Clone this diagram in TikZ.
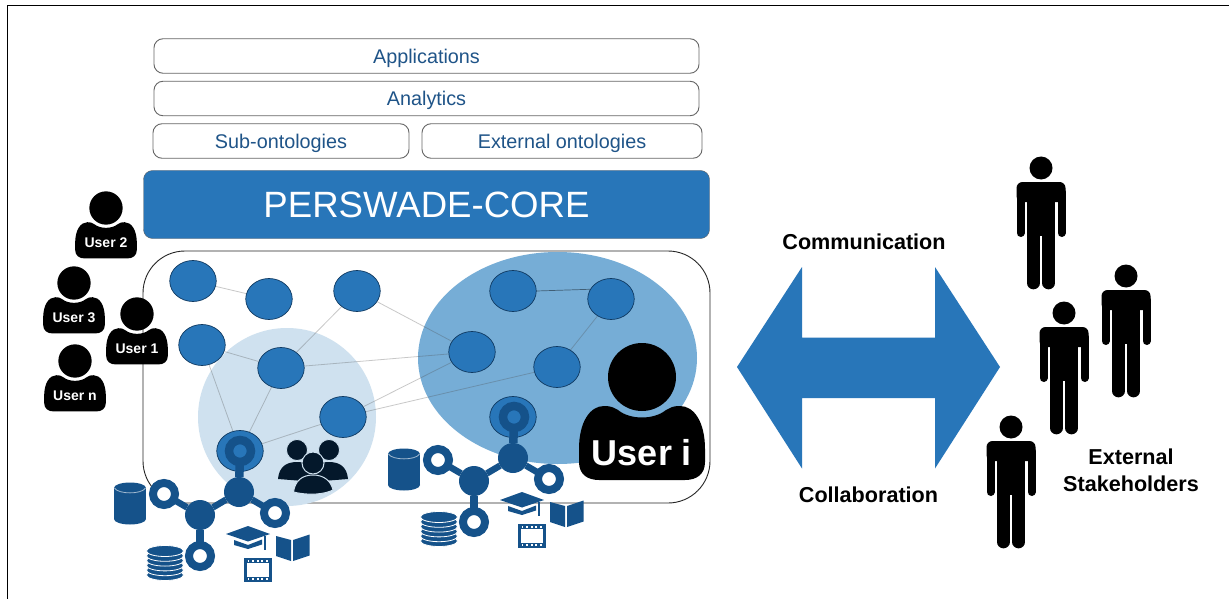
\documentclass[tikz,border=0pt]{standalone}
\usepackage{fontspec}
\setmainfont{Liberation Sans}
\usetikzlibrary{shapes.geometric}
\definecolor{persblue}{HTML}{2876B9}
\definecolor{hubdark}{HTML}{15528A}
\definecolor{softblue}{HTML}{CFE1EF}
\definecolor{midblue}{HTML}{76ADD6}
\definecolor{layertext}{HTML}{1F5488}
\definecolor{groupdark}{HTML}{04182B}
\tikzset{
  ontnode/.style={draw=hubdark!70!black, fill=persblue, ellipse, minimum width=46.5, minimum height=41, inner sep=0, line width=.7},
  ontlink/.style={draw=black!70, opacity=.3, line width=.8},
  layerbox/.style={draw=black!60, rounded corners=9, line width=.9, fill=white, text=layertext, minimum height=34.5, inner sep=0, text height=14.5, text depth=0, font=\fontsize{19.8}{23}\selectfont},
  sidelabel/.style={inner sep=0, align=center, font=\fontsize{21.6}{26}\selectfont\bfseries},
  hubring/.style={draw=hubdark, fill=white, circle, minimum size=22, inner sep=0, outer sep=0, line width=8},
  hubtop/.style={draw=hubdark, fill=persblue, circle, minimum size=22, inner sep=0, outer sep=0, line width=8.5},
  hubsolid/.style={fill=hubdark, circle, minimum size=30, inner sep=0, outer sep=0},
  hublink/.style={draw=hubdark, line width=6.5}
}
\newcommand{\userfig}[7]{
  \begin{scope}[shift={(#2,#3)}, scale=#4]
    \fill (-63,72) .. controls (-63,45) and (-52,29) .. (-38,29) .. controls (-30,29) and (-28,31) .. (-24,33)
      .. controls (-12,43) and (12,43) .. (24,33) .. controls (28,31) and (30,29) .. (38,29)
      .. controls (52,29) and (63,45) .. (63,72) -- (63,85) .. controls (63,97) and (55,103) .. (43,103)
      -- (-43,103) .. controls (-55,103) and (-63,97) .. (-63,85) -- cycle;
    \fill (0,0) circle (34);
    \node[text=white, inner sep=0, font=\fontsize{#5}{#5}\selectfont\bfseries] (#1) at (0,#6) {#7};
  \end{scope}
}
\newcommand{\personfig}[3]{
  \begin{scope}[shift={(#2,#3)}]
    \fill (0,0) circle (11.5);
    \fill[rounded corners=6] (-24.5,34) -- (-24.5,14) -- (24.5,14) -- (24.5,34) -- cycle;
    \fill (-14,20) rectangle (14,68);
    \draw[line width=8, line cap=round] (-20.5,24) -- (-20.5,65);
    \draw[line width=8, line cap=round] (20.5,24) -- (20.5,65);
    \draw[line width=12.7, line cap=round] (-7.6,40) -- (-7.6,115);
    \draw[line width=12.7, line cap=round] (7.6,40) -- (7.6,115);
  \end{scope}
}
\newcommand{\hubfig}[3]{
  \begin{scope}[shift={(#2,#3)}]
    \node[hubtop] (#1top) at (240,451) {};
    \node[hubsolid] (#1a) at (239,492) {};
    \node[hubsolid] (#1b) at (200,515) {};
    \node[hubring] (#1r1) at (164,494) {};
    \node[hubring] (#1r2) at (275,513) {};
    \node[hubring] (#1r3) at (200,556) {};
    \draw[hublink, line width=8.5] (#1top) -- (#1a);
    \draw[hublink] (#1a) -- (#1b);
    \draw[hublink] (#1a) -- (#1r2);
    \draw[hublink] (#1b) -- (#1r1);
    \draw[hublink, line width=8.5] (#1b) -- (#1r3);
    % cylinder
    \fill[hubdark] (114,488) rectangle (146,519);
    \fill[hubdark] (130,488) ellipse (16 and 5.5);
    \fill[hubdark] (130,519) ellipse (16 and 5.5);
    \draw[white, opacity=.6, line width=.8] (114.5,488) .. controls (118,494.5) and (142,494.5) .. (145.5,488);
    % stack
    \foreach \i in {0,...,5}
      \filldraw[fill=hubdark, draw=white, line width=.8] (165,575-4.8*\i) ellipse (18.5 and 5.5);
    % cap
    \fill[hubdark] (226,534) -- (248,526) -- (270,534) -- (248,541.5) -- cycle;
    \fill[hubdark] (234,540) -- (248,545) -- (262,539.5) -- (262,544.5) -- (248,549) -- (234,545) -- cycle;
    \fill[hubdark] (263.5,536) rectangle (266,550);
    % book
    \fill[hubdark] (276,536) -- (291,540) -- (291,561) -- (276,556) -- cycle;
    \fill[hubdark] (293,540) -- (309.5,534.5) -- (309.5,555.5) -- (293,561) -- cycle;
    % film
    \fill[hubdark] (244,558) rectangle (272,582);
    \fill[white] (247,563) rectangle (269,576.5);
    \foreach \k in {0,...,4} {
      \fill[white] (247.5+\k*4.6,559.5) rectangle +(1.8,2);
      \fill[white] (247.5+\k*4.6,578) rectangle +(1.8,2);
    }
  \end{scope}
}
\begin{document}
\begin{tikzpicture}[x=1pt, y=-1pt]
  \useasboundingbox (0,0) rectangle (1229,599);
  \fill[white] (0,0) rectangle (1229,599);
  \draw[line width=1] (7.5,599) -- (7.5,5.5) -- (1229,5.5);

  \node[layerbox, minimum width=545] (app) at (426.5,56) {Applications};
  \node[layerbox, minimum width=545] (ana) at (426.5,98.5) {Analytics};
  \node[layerbox, minimum width=256] (sub) at (281,141) {Sub-ontologies};
  \node[layerbox, minimum width=280] (ext) at (562,141) {External ontologies};
  \node[draw=black!60, fill=persblue, rounded corners=9, minimum width=566, minimum height=68, inner sep=0,
    text=white, font=\fontsize{36.6}{40}\selectfont] (core) at (426.5,204.5) {PERSWADE-CORE};

  \node[draw=black!85, line width=.9, rounded corners=42, minimum width=567, minimum height=252, inner sep=0] (net) at (426.5,377) {};
  \fill[softblue] (287,417) circle (89);
  \fill[midblue] (557.5,358) ellipse (139.5 and 106);

  \node[ontnode] (n1) at (193,281) {};
  \node[ontnode] (n2) at (269,299) {};
  \node[ontnode] (n3) at (357,291) {};
  \node[ontnode] (n4) at (202,345) {};
  \node[ontnode] (n5) at (281,368) {};
  \node[ontnode] (n6) at (343,417) {};
  \node[ontnode] (n7) at (240,451) {};
  \node[ontnode] (n8) at (513,291) {};
  \node[ontnode] (n9) at (611,299) {};
  \node[ontnode] (n10) at (472,352) {};
  \node[ontnode] (n11) at (557,367) {};
  \node[ontnode] (n12) at (513,417) {};

  \path[ontlink]
  (n1) edge (n2)
  (n3) edge (n5)
  (n3) edge (n10)
  (n4) edge (n5)
  (n4) edge (n7)
  (n5) edge (n7)
  (n5) edge (n10)
  (n6) edge (n7)
  (n6) edge (n10)
  (n6) edge (n11)
  (n9) edge (n11);
  \draw[draw=black, opacity=.45, line width=.7] (n8.east) -- (n9.155);

  \userfig{u2}{106}{208}{.49}{14}{70}{User 2}
  \userfig{u3}{74}{283}{.49}{14}{70}{User 3}
  \userfig{u1}{137}{314}{.49}{14}{70}{User 1}
  \userfig{un}{75}{361}{.49}{14}{70}{User n}
  \userfig{ui}{642}{377}{1}{36}{76}{User i}

  % group of users
  \fill[groupdark] (278,479) .. controls (279,468) and (285,462) .. (297,462) .. controls (309,462) and (315,468) .. (316,482) -- cycle;
  \fill[groupdark] (310,482) .. controls (311,468) and (317,462) .. (329,462) .. controls (341,462) and (347,468) .. (348,479) -- cycle;
  \filldraw[fill=groupdark, draw=softblue, line width=.8] (297,450) circle (10.5);
  \filldraw[fill=groupdark, draw=softblue, line width=.8] (329,450) circle (10.5);
  \filldraw[fill=groupdark, draw=softblue, line width=1] (293.5,492) .. controls (295,481) and (302,475) .. (313,475) .. controls (324,475) and (331,481) .. (333,490) .. controls (325,494) and (310,496) .. (293.5,492) -- cycle;
  \filldraw[fill=groupdark, draw=softblue, line width=1] (313,463) circle (11);

  \hubfig{hl}{0}{0}
  \hubfig{hr}{274}{-34}

  \fill[persblue] (737,367) -- (802,267) -- (802,337.5) -- (935,337.5) -- (935,267) -- (1000,367)
    -- (935,468.5) -- (935,398) -- (802,398) -- (802,468.5) -- cycle;

  \node[sidelabel] (comm) at (864,242) {Communication};
  \node[sidelabel] (coll) at (868.5,495) {Collaboration};
  \node[sidelabel] (stake) at (1131,470) {External\\[1pt]Stakeholders};

  \personfig{p1}{1041}{168}
  \personfig{p2}{1126}{276}
  \personfig{p3}{1064}{313}
  \personfig{p4}{1011}{427}
\end{tikzpicture}
\end{document}
